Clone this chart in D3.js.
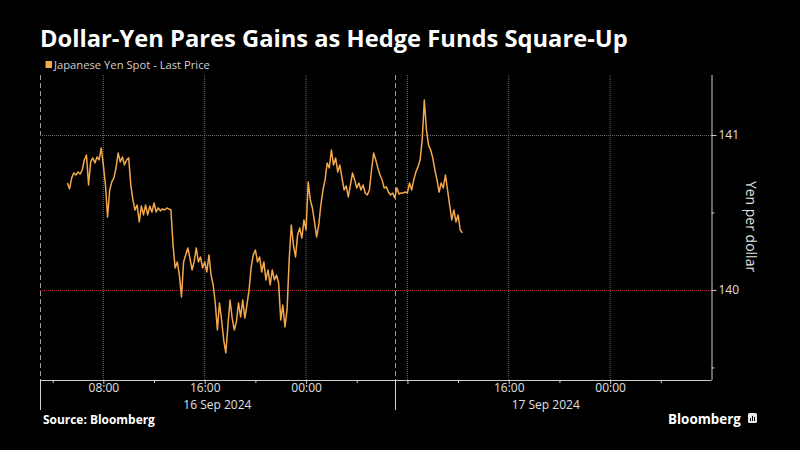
<!DOCTYPE html>
<html>
<head>
<meta charset="utf-8">
<script src="https://cdn.jsdelivr.net/npm/d3@7"></script>
<style>
  html, body { margin: 0; padding: 0; background: #000; }
  svg { display: block; }
  text { font-family: "Open Sans", "DejaVu Sans", sans-serif; }
</style>
</head>
<body>
<svg id="chart" width="800" height="450"></svg>
<script>
// ---- DATA ----
const title = "Dollar-Yen Pares Gains as Hedge Funds Square-Up";
const seriesName = "Japanese Yen Spot - Last Price";
const axisTitle = "Yen per dollar";
const sourceText = "Source: Bloomberg";
// first observation time and spacing (minutes)
const seriesStart = "2024-09-16 05:10";
const stepMinutes = 10;
const prices = [
  140.690,140.652,140.723,140.755,140.742,140.761,140.748,140.774,140.839,140.871,
  140.677,140.826,140.852,140.819,140.858,140.839,140.916,140.806,140.677,140.471,
  140.645,140.697,140.723,140.787,140.884,140.826,140.858,140.806,140.839,140.852,
  140.677,140.581,140.516,140.548,140.439,140.542,140.484,140.548,140.484,140.542,
  140.503,140.561,140.503,140.529,140.510,140.523,140.516,140.529,140.523,140.516,
  140.290,140.142,140.181,140.097,139.955,140.181,140.226,140.271,140.206,140.129,
  140.181,140.271,140.181,140.213,140.142,140.181,140.116,140.226,140.097,140.032,
  139.916,139.742,139.916,139.806,139.677,139.594,139.774,139.935,139.819,139.742,
  139.794,139.916,139.826,139.935,139.819,139.903,140.000,140.148,140.226,140.258,
  140.181,140.213,140.116,140.181,140.065,140.129,140.032,140.129,140.065,140.097,
  140.045,139.806,139.903,139.761,139.871,140.194,140.419,140.290,140.213,140.355,
  140.400,140.335,140.452,140.387,140.697,140.581,140.529,140.439,140.342,140.419,
  140.548,140.645,140.710,140.819,140.787,140.903,140.806,140.852,140.761,140.806,
  140.723,140.645,140.671,140.600,140.677,140.755,140.710,140.658,140.690,140.645,
  140.677,140.626,140.613,140.645,140.774,140.884,140.839,140.787,140.742,140.710,
  140.658,140.665,140.632,140.613,140.626,140.594,140.658,140.619,140.626,140.626,
  140.632,140.626,140.690,140.645,140.710,140.761,140.794,140.839,140.968,141.226,
  141.032,140.935,140.903,140.852,140.774,140.710,140.632,140.690,140.658,140.742,
  140.645,140.548,140.452,140.516,140.439,140.484,140.387,140.368
];
const xDomain = ["2024-09-16 03:00", "2024-09-18 08:00"];
const yDomain = [139.419, 141.387];
const yMajorTicks = [140, 141];
const yMinorTicks = [139.5, 140.5];
const xMajorTicks = ["2024-09-16 08:00","2024-09-16 16:00","2024-09-17 00:00","2024-09-17 08:00","2024-09-17 16:00","2024-09-18 00:00"];
const xMajorLabels = ["08:00","16:00","00:00","","16:00","00:00"];
const xMinorTicks = ["2024-09-16 04:00","2024-09-16 12:00","2024-09-16 20:00","2024-09-17 04:00","2024-09-17 12:00","2024-09-17 20:00","2024-09-18 04:00"];
const daySeparators = ["2024-09-16 03:00","2024-09-17 07:00"];
const dayLabels = [
  {label: "16 Sep 2024", from: "2024-09-16 03:00", to: "2024-09-17 07:00"},
  {label: "17 Sep 2024", from: "2024-09-17 07:00", to: "2024-09-18 06:50"}
];

// ---- SETUP ----
const parse = d3.timeParse("%Y-%m-%d %H:%M");
const t0 = parse(seriesStart);
const data = prices.map((p, i) => ({t: d3.timeMinute.offset(t0, i * stepMinutes), v: p}));

const svg = d3.select("#chart");
const W = 800, H = 450;
const plot = {left: 40, right: 711.5, top: 75, bottom: 380};
const tickFont = "'DejaVu Sans', sans-serif";

svg.append("rect").attr("width", W).attr("height", H).attr("fill", "#000");

const x = d3.scaleTime().domain(xDomain.map(parse)).range([plot.left, plot.right]);
const y = d3.scaleLinear().domain(yDomain).range([plot.bottom, plot.top]);

function fitText(sel, width) {
  const node = sel.node();
  const fs = parseFloat(sel.attr("font-size"));
  const w = node.getComputedTextLength();
  if (w > 0) sel.attr("font-size", (fs * width / w).toFixed(2));
}

// ---- TITLE / LEGEND ----
const tt = svg.append("text").attr("x", 40).attr("y", 47)
  .attr("fill", "#fff").attr("font-size", 22).attr("font-weight", 700)
  .text(title);
fitText(tt, 588);

svg.append("rect").attr("x", 45.5).attr("y", 61).attr("width", 6.5).attr("height", 7)
  .attr("fill", "#f5a84a");
const lg = svg.append("text").attr("x", 54).attr("y", 69)
  .attr("fill", "#cfcfcf").attr("font-size", 11)
  .text(seriesName);
fitText(lg, 156);

// ---- GRID ----
const g = svg.append("g");
g.selectAll("line.vgrid").data(xMajorTicks.map(parse)).enter().append("line")
  .attr("x1", d => x(d)).attr("x2", d => x(d))
  .attr("y1", plot.top).attr("y2", plot.bottom)
  .attr("stroke", "#6a6a6a").attr("stroke-width", 1).attr("stroke-dasharray", "1,1");
g.selectAll("line.sep").data(daySeparators.map(parse)).enter().append("line")
  .attr("x1", d => Math.round(x(d)) + 0.5).attr("x2", d => Math.round(x(d)) + 0.5)
  .attr("y1", plot.top).attr("y2", plot.bottom)
  .attr("stroke", "#9a9a9a").attr("stroke-width", 1).attr("stroke-dasharray", "5,3");
g.selectAll("line.septick").data(daySeparators.map(parse)).enter().append("line")
  .attr("x1", d => Math.round(x(d)) + 0.5).attr("x2", d => Math.round(x(d)) + 0.5)
  .attr("y1", plot.bottom).attr("y2", 410)
  .attr("stroke", "#cfcfcf").attr("stroke-width", 1);
g.selectAll("line.hgrid").data(yMajorTicks).enter().append("line")
  .attr("x1", plot.left).attr("x2", plot.right)
  .attr("y1", d => Math.round(y(d)) + 0.5).attr("y2", d => Math.round(y(d)) + 0.5)
  .attr("stroke", d => d === 140 ? "#a3303c" : "#6a6a6a")
  .attr("stroke-width", 1).attr("stroke-dasharray", "1,1");

// ---- LINE ----
const line = d3.line().x(d => x(d.t)).y(d => y(d.v)).curve(d3.curveLinear);
svg.append("path").datum(data).attr("d", line)
  .attr("fill", "none").attr("stroke", "#f5a84a").attr("stroke-width", 1.5)
  .attr("stroke-linejoin", "round");

// ---- AXES ----
const axisColor = "#cfcfcf";
const xAxis = d3.axisBottom(x)
  .tickValues(xMajorTicks.map(parse))
  .tickFormat((d, i) => xMajorLabels[i])
  .tickSize(4).tickPadding(2);
const xa = svg.append("g").attr("transform", `translate(0,${plot.bottom})`).call(xAxis);
xa.select(".domain").attr("stroke", axisColor).attr("d", `M${plot.left},0.5H${plot.right}`);
xa.selectAll(".tick line").attr("stroke", axisColor);
xa.selectAll(".tick text").attr("fill", "#e0e0e0").attr("font-size", 12)
  .attr("font-family", tickFont).attr("dy", null).attr("y", 12);
const xMinor = d3.axisBottom(x).tickValues(xMinorTicks.map(parse)).tickSize(3).tickFormat("");
const xm = svg.append("g").attr("transform", `translate(0,${plot.bottom})`).call(xMinor);
xm.select(".domain").remove();
xm.selectAll(".tick line").attr("stroke", axisColor);

svg.selectAll("text.day").data(dayLabels).enter().append("text")
  .attr("x", d => (x(parse(d.from)) + x(parse(d.to))) / 2)
  .attr("y", 409).attr("text-anchor", "middle")
  .attr("fill", "#e0e0e0").attr("font-size", 12).attr("font-family", tickFont)
  .text(d => d.label);

const yAxis = d3.axisRight(y).tickValues(yMajorTicks).tickFormat(d3.format("d"))
  .tickSize(5).tickPadding(2);
const ya = svg.append("g").attr("transform", `translate(${plot.right},0)`).call(yAxis);
ya.select(".domain").attr("stroke", axisColor).attr("d", `M0.5,${plot.top}V${plot.bottom}`);
ya.selectAll(".tick line").attr("stroke", axisColor);
ya.selectAll(".tick text").attr("fill", "#e0e0e0").attr("font-size", 12)
  .attr("font-family", tickFont);
const yMinor = d3.axisRight(y).tickValues(yMinorTicks).tickSize(3).tickFormat("");
const ym = svg.append("g").attr("transform", `translate(${plot.right},0)`).call(yMinor);
ym.select(".domain").remove();
ym.selectAll(".tick line").attr("stroke", axisColor);

svg.append("text")
  .attr("transform", `translate(746,${(plot.top + plot.bottom) / 2 - 1}) rotate(90)`)
  .attr("text-anchor", "middle").attr("fill", "#e0e0e0").attr("font-size", 14)
  .text(axisTitle);

// ---- FOOTER ----
const src = svg.append("text").attr("x", 43).attr("y", 424)
  .attr("fill", "#fff").attr("font-size", 11).attr("font-weight", 700)
  .text(sourceText);
fitText(src, 112);

const bb = svg.append("text").attr("x", 668).attr("y", 424)
  .attr("fill", "#fff").attr("font-size", 14).attr("font-weight", 700)
  .text("Bloomberg");
fitText(bb, 73);
const logo = svg.append("g").attr("transform", "translate(748,413)");
logo.append("rect").attr("width", 9).attr("height", 10).attr("rx", 1.5).attr("fill", "#e8e8e8");
[[2, 5, 3], [4, 3, 5], [6, 4, 4]].forEach(([bx, by, bh]) =>
  logo.append("rect").attr("x", bx).attr("y", by).attr("width", 1).attr("height", bh).attr("fill", "#000"));
</script>
</body>
</html>
